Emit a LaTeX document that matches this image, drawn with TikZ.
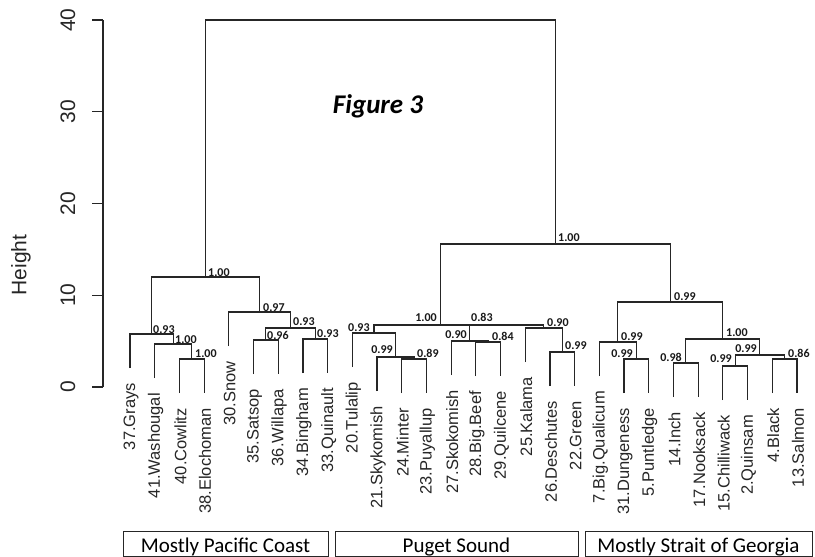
\documentclass[tikz,border=0pt]{standalone}
\usepackage{fontspec}
\setmainfont{Liberation Sans}
\newfontfamily\calib{Carlito}
\begin{document}
\begin{tikzpicture}[x=1pt,y=-1pt,
  tree/.style={draw=black!85,line width=1.2pt},
  boot/.style={font=\calib\bfseries\fontsize{12}{13}\selectfont,inner sep=0pt,text=black!90},
  leaf/.style={font=\fontsize{16.5}{18}\selectfont,rotate=90,anchor=east,inner sep=0pt,text=black!85},
  ticklab/.style={font=\fontsize{21}{22}\selectfont,rotate=90,inner sep=0pt,text=black!85},
  region/.style={draw=black!85,line width=1pt},
  regionlab/.style={font=\calib\fontsize{21}{22}\selectfont,anchor=base,inner sep=0pt}]
\useasboundingbox (0,0) rectangle (815,557);
\fill[white] (0,0) rectangle (815,557);

% ---------- axis ----------
\coordinate (ax0) at (103,387);
\coordinate (ax40) at (103,20);
\draw[tree] (ax0) -- (ax40);
\foreach \v/\yy in {0/387,10/295.25,20/203.5,30/111.75,40/20}{
  \coordinate (t\v) at (103,\yy);
  \draw[tree] (t\v) -- ++(-11,0);
  \node[ticklab] (tl\v) at (68,\yy) {\v};
}
\node[ticklab] (ylab) at (21,265) {Height};

% ---------- leaves ----------
\foreach \i/\yb/\name in {
 0/368/37.Grays, 1/378/41.Washougal, 2/393/40.Cowlitz, 3/393/38.Elochoman,
 4/346/30.Snow, 5/374/35.Satsop, 6/374/36.Willapa, 7/373/34.Bingham,
 8/373/33.Quinault, 9/367/20.Tulalip, 10/391/21.Skykomish, 11/393/24.Minter,
 12/393/23.Puyallup, 13/375/27.Skokomish, 14/376/28.Big.Beef, 15/376/29.Quilcene,
 16/362/25.Kalama, 17/386/26.Deschutes, 18/386/22.Green, 19/376/7.Big.Qualicum,
 20/393/31.Dungeness, 21/393/5.Puntledge, 22/397/14.Inch, 23/397/17.Nooksack,
 24/400/15.Chilliwack, 25/400/2.Quinsam, 26/393/4.Black, 27/393/13.Salmon}{
  \coordinate (l\i) at ({130+24.7*\i},\yb);
  \node[leaf] (lab\i) at ({131+24.7*\i},{\yb+15}) {\name};
}

% ---------- internal nodes ----------
\coordinate (C) at (191.75,359);
\coordinate (B) at (173.2,344);
\coordinate (A) at (151.6,334);
\coordinate (F) at (265.85,340);
\coordinate (G) at (315.25,339);
\coordinate (E) at (290.55,328);
\coordinate (D) at (259.7,312);
\coordinate (P) at (205.6,277);
\coordinate (J) at (414.05,359);
\coordinate (I) at (395.5,357);
\coordinate (H) at (373.9,333);
\coordinate (L) at (488.15,342);
\coordinate (K) at (469.6,341);
\coordinate (W) at (562.25,352);
\coordinate (Z) at (543.7,328);
\coordinate (Y) at (506.65,325);
\coordinate (Q) at (440.3,325);
\coordinate (V) at (636.35,359);
\coordinate (T) at (617.8,342);
\coordinate (X1) at (685.75,363);
\coordinate (Y2) at (735.15,366);
\coordinate (Y3) at (784.55,359);
\coordinate (Y1) at (759.85,355);
\coordinate (U) at (722.8,339);
\coordinate (S) at (670.3,302);
\coordinate (R) at (555.3,244);
\coordinate (Root) at (380.45,20);

% ---------- links ----------
\draw[tree] (l2) |- (C) -| (l3);
\draw[tree] (l1) |- (B) -| (C);
\draw[tree] (l0) |- (A) -| (B);
\draw[tree] (l5) |- (F) -| (l6);
\draw[tree] (l7) |- (G) -| (l8);
\draw[tree] (F) |- (E) -| (G);
\draw[tree] (l4) |- (D) -| (E);
\draw[tree] (A) |- (P) -| (D);
\draw[tree] (l11) |- (J) -| (l12);
\draw[tree] (l10) |- (I) -| (J);
\draw[tree] (l9) |- (H) -| (I);
\draw[tree] (l14) |- (L) -| (l15);
\draw[tree] (l13) |- (K) -| (L);
\draw[tree] (l17) |- (W) -| (l18);
\draw[tree] (l16) |- (Z) -| (W);
\draw[tree] (K) |- (Y) -| (Z);
\draw[tree] (H) |- (Q) -| (Y);
\draw[tree] (l20) |- (V) -| (l21);
\draw[tree] (l19) |- (T) -| (V);
\draw[tree] (l22) |- (X1) -| (l23);
\draw[tree] (l24) |- (Y2) -| (l25);
\draw[tree] (l26) |- (Y3) -| (l27);
\draw[tree] (Y2) |- (Y1) -| (Y3);
\draw[tree] (X1) |- (U) -| (Y1);
\draw[tree] (T) |- (S) -| (U);
\draw[tree] (Q) |- (R) -| (S);
\draw[tree] (P) |- (Root) -| (R);

% ---------- bootstrap values ----------
\node[boot,anchor=base west] (bP) at (208,276) {1.00};
\node[boot,anchor=base west] (bA) at (153,333) {0.93};
\node[boot,anchor=base west] (bB) at (175,343) {1.00};
\node[boot,anchor=base west] (bC) at (195,357) {1.00};
\node[boot,anchor=base west] (bD) at (263,311) {0.97};
\node[boot,anchor=base west] (bE) at (293,325) {0.93};
\node[boot,anchor=base west] (bF) at (267,339) {0.96};
\node[boot,anchor=base west] (bG) at (317,337) {0.93};
\node[boot,anchor=base west] (bH) at (348,331) {0.93};
\node[boot,anchor=base east] (bQ) at (437,321) {1.00};
\node[boot,anchor=base west] (bY) at (471,321) {0.83};
\node[boot,anchor=base east] (bK) at (467,338) {0.90};
\node[boot,anchor=base west] (bL) at (492,340) {0.84};
\node[boot,anchor=base east] (bI) at (393,353) {0.99};
\node[boot,anchor=base west] (bJ) at (417,357) {0.89};
\node[boot,anchor=base west] (bZ) at (547,326) {0.90};
\node[boot,anchor=base west] (bW) at (565,349) {0.99};
\node[boot,anchor=base west] (bR) at (558,241) {1.00};
\node[boot,anchor=base west] (bS) at (674,300) {0.99};
\node[boot,anchor=base west] (bT) at (621,340) {0.99};
\node[boot,anchor=base east] (bV) at (633,357) {0.99};
\node[boot,anchor=base west] (bU) at (726,336) {1.00};
\node[boot,anchor=base east] (bX1) at (682,361) {0.98};
\node[boot,anchor=base east] (bY1) at (757,352) {0.99};
\node[boot,anchor=base east] (bY2) at (732,362) {0.99};
\node[boot,anchor=base west] (bY3) at (788,357) {0.86};

% ---------- title ----------
\node[font=\calib\bfseries\itshape\fontsize{27}{30}\selectfont,anchor=base,inner sep=0pt] (title) at (378,113) {Figure 3};

% ---------- region boxes ----------
\draw[region] (123,531) rectangle (328,556);
\draw[region] (335,531) rectangle (578,556);
\draw[region] (585,531) rectangle (812,556);
\node[regionlab] (r1) at (225.5,552) {Mostly Pacific Coast};
\node[regionlab] (r2) at (456.5,552) {Puget Sound};
\node[regionlab] (r3) at (698.5,552) {Mostly Strait of Georgia};
\end{tikzpicture}
\end{document}
